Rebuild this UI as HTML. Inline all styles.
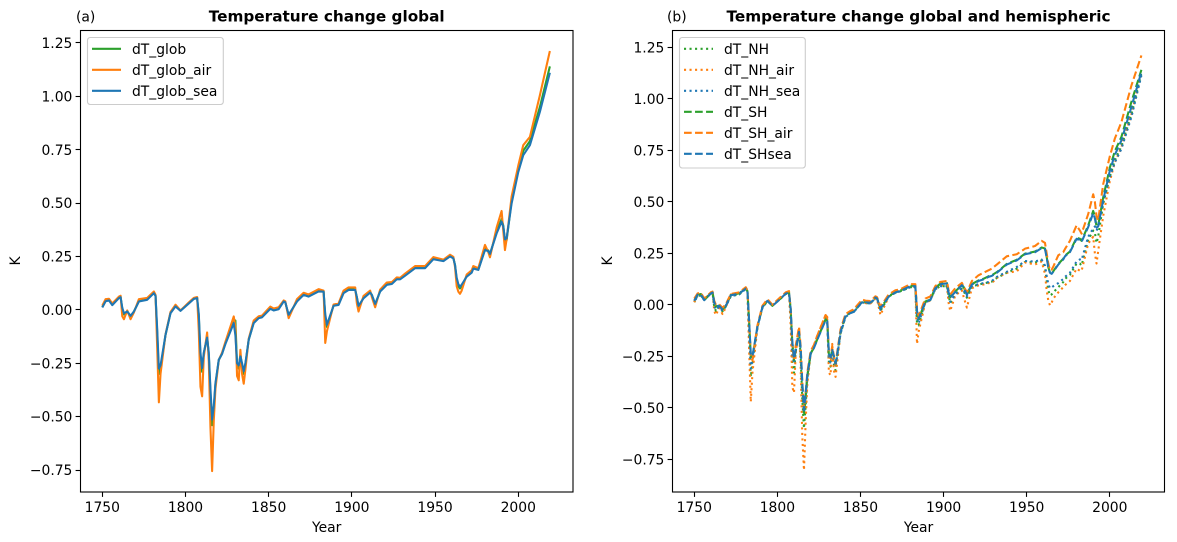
<!DOCTYPE html>
<html>
<head>
<meta charset="utf-8">
<title>Temperature change global and hemispheric</title>
<style>
html,body{margin:0;padding:0;background:#fff;width:1177px;height:542px;overflow:hidden}
svg{display:block}
text{font-family:"DejaVu Sans","Liberation Sans",sans-serif;font-size:13.89px;fill:#000}
text.bold{font-weight:bold;font-size:15.28px}
</style>
</head>
<body>
<svg id="figure" width="1177" height="542" viewBox="0 0 1177 542" xmlns="http://www.w3.org/2000/svg">
<rect x="0" y="0" width="1177" height="542" fill="#fff"/>
<text x="76" y="21.5">(a)</text>
<text class="bold" x="326.7" y="21.5" text-anchor="middle">Temperature change global</text>
<text x="667" y="21.5">(b)</text>
<text class="bold" x="918.5" y="21.5" text-anchor="middle">Temperature change global and hemispheric</text>
<text x="326.7" y="532" text-anchor="middle">Year</text>
<text x="918.5" y="532" text-anchor="middle">Year</text>
<text x="0" y="0" text-anchor="middle" transform="translate(20,261) rotate(-90)">K</text>
<text x="0" y="0" text-anchor="middle" transform="translate(612,261) rotate(-90)">K</text>
<g id="panel-a"></g>
<g id="panel-b"></g>
</svg>
<script>
// Shared time axis (years)
const years = [
1750,1752,1754,1756,1760,1761,1762,1763,1765,1767,
1769,1772,1777,1781,1782,1783,1784,1785,1788,1791,
1794,1797,1802,1805,1807,1808,1809,1810,1811,1813,
1814,1815,1816,1817,1818,1820,1822,1824,1829,1830,
1831,1832,1833,1834,1835,1836,1838,1841,1844,1846,
1851,1853,1856,1859,1860,1862,1867,1871,1874,1880,
1883,1884,1885,1889,1892,1895,1898,1902,1903,1904,
1907,1911,1912,1914,1917,1921,1924,1927,1929,1932,
1938,1944,1949,1955,1959,1961,1962,1963,1964,1965,
1966,1969,1972,1973,1976,1980,1982,1983,1987,1990,
1991,1992,1993,1996,2000,2003,2007,2013,2019];

const dT_glob = [
.013,.042,.046,.024,.057,.061,.006,-.022,-.006,-.032,
-.008,.041,.049,.08,.067,-.11,-.30,-.275,-.118,-.014,
.019,-.003,.032,.053,.057,-.03,-.22,-.29,-.205,-.125,
-.21,-.39,-.54,-.465,-.35,-.235,-.205,-.155,-.058,-.05,
-.26,-.275,-.21,-.26,-.30,-.255,-.14,-.06,-.037,-.033,
.007,-.001,.005,.041,.035,-.027,.041,.072,.064,.088,
.087,-.03,-.08,.02,.025,.08,.095,.095,.058,.015,
.056,.083,.07,.024,.088,.119,.123,.145,.145,.162,
.197,.197,.239,.23,.252,.243,.21,.14,.11,.1,
.112,.158,.177,.196,.188,.285,.278,.26,.365,.425,
.395,.325,.325,.51,.655,.745,.79,.95,1.14];

const dT_glob_air = [
.02,.05,.052,.03,.062,.066,-.03,-.044,-.003,-.044,
-.012,.05,.056,.086,.07,-.18,-.433,-.30,-.115,-.01,
.024,-.003,.035,.056,.06,-.10,-.36,-.405,-.22,-.106,
-.24,-.55,-.755,-.52,-.37,-.235,-.2,-.15,-.031,-.08,
-.31,-.33,-.187,-.30,-.346,-.28,-.135,-.05,-.03,-.027,
.015,.006,.012,.044,.04,-.039,.05,.08,.072,.097,
.09,-.155,-.10,.025,.03,.09,.105,.105,.03,-.008,
.065,.09,.06,.012,.095,.128,.13,.152,.15,.17,
.205,.205,.247,.235,.258,.248,.2,.11,.085,.075,
.09,.165,.185,.205,.195,.304,.27,.246,.385,.463,
.37,.28,.33,.53,.675,.771,.81,1.005,1.212];

const dT_glob_sea = [
.011,.040,.044,.022,.055,.059,.01,-.016,-.008,-.028,
-.008,.039,.047,.078,.065,-.09,-.275,-.26,-.117,-.016,
.016,-.005,.03,.051,.055,-.02,-.2,-.273,-.2,-.13,
-.2,-.37,-.514,-.45,-.343,-.234,-.206,-.16,-.062,-.12,
-.25,-.26,-.218,-.25,-.288,-.25,-.14,-.062,-.039,-.035,
.005,-.003,.003,.039,.035,-.023,.039,.07,.062,.086,
.085,-.02,-.07,.019,.023,.078,.093,.093,.06,.019,
.054,.081,.07,.028,.086,.117,.121,.143,.143,.16,
.195,.195,.237,.228,.25,.241,.21,.15,.12,.108,
.118,.155,.174,.193,.187,.28,.275,.262,.358,.413,
.39,.33,.335,.498,.645,.724,.771,.927,1.11];

const dT_NH = [
.012,.042,.045,.022,.055,.058,-.01,-.03,-.012,-.032,
-.008,.042,.05,.077,.065,-.15,-.35,-.29,-.11,-.014,
.018,-.004,.03,.052,.055,-.06,-.29,-.33,-.23,-.125,
-.25,-.46,-.6,-.49,-.36,-.24,-.205,-.16,-.065,-.08,
-.285,-.3,-.215,-.29,-.32,-.26,-.14,-.058,-.038,-.033,
.012,.008,.006,.033,.028,-.03,.04,.058,.065,.085,
.085,-.09,-.1,.012,.022,.075,.09,.09,.045,.008,
.05,.078,.068,.034,.088,.098,.103,.108,.112,.13,
.155,.175,.208,.205,.215,.18,.12,.07,.045,.05,
.06,.085,.11,.125,.145,.2,.2,.19,.315,.36,
.35,.3,.33,.49,.62,.7,.77,.925,1.125];

const dT_NH_air = [
.012,.05,.052,.025,.06,.062,-.03,-.05,-.015,-.045,
-.012,.05,.055,.08,.065,-.22,-.471,-.33,-.11,-.01,
.02,-.002,.032,.053,.057,-.1,-.40,-.427,-.24,-.108,
-.30,-.64,-.803,-.57,-.385,-.24,-.2,-.15,-.05,-.07,
-.33,-.342,-.19,-.32,-.35,-.28,-.135,-.05,-.032,-.027,
.015,.008,.006,.03,.025,-.05,.04,.06,.067,.09,
.087,-.19,-.13,.01,.02,.08,.095,.09,.01,-.03,
.045,.07,.04,-.014,.08,.094,.098,.105,.105,.13,
.155,.162,.205,.195,.21,.15,.07,.02,-.003,.01,
.03,.06,.085,.095,.115,.175,.165,.164,.297,.33,
.25,.2,.26,.43,.6,.69,.765,.925,1.121];

const dT_NH_sea = [
.012,.042,.045,.022,.055,.058,-.005,-.025,-.01,-.03,
-.008,.042,.05,.077,.065,-.12,-.31,-.27,-.11,-.015,
.018,-.005,.03,.052,.055,-.04,-.24,-.285,-.22,-.13,
-.22,-.40,-.53,-.45,-.35,-.24,-.205,-.165,-.07,-.085,
-.27,-.28,-.22,-.27,-.30,-.25,-.14,-.06,-.04,-.035,
.012,.008,.006,.033,.028,-.025,.04,.058,.065,.085,
.085,-.06,-.09,.012,.022,.075,.09,.09,.05,.014,
.05,.08,.072,.041,.09,.1,.105,.11,.115,.135,
.16,.183,.212,.21,.219,.19,.14,.1,.08,.084,
.09,.105,.125,.135,.155,.21,.22,.216,.33,.37,
.38,.36,.375,.5,.62,.69,.757,.911,1.113];

const dT_SH = [
.02,.05,.051,.023,.056,.06,.013,-.009,-.004,-.022,
-.004,.047,.055,.079,.066,-.08,-.25,-.255,-.106,-.011,
.02,-.005,.031,.055,.06,-.02,-.185,-.268,-.222,-.13,
-.215,-.39,-.525,-.44,-.345,-.236,-.208,-.168,-.072,-.078,
-.245,-.26,-.218,-.252,-.29,-.242,-.13,-.053,-.038,-.033,
.016,.014,.012,.037,.032,-.02,.042,.062,.069,.092,
.092,-.032,-.07,.016,.025,.082,.102,.105,.062,.036,
.064,.097,.087,.05,.1,.118,.126,.138,.143,.158,
.198,.218,.248,.258,.278,.273,.233,.182,.157,.152,
.162,.198,.223,.238,.258,.325,.32,.31,.385,.455,
.43,.38,.385,.52,.665,.745,.815,.985,1.14];

const dT_SH_air = [
.03,.055,.058,.03,.06,.064,.02,0,.002,-.015,
.003,.052,.06,.085,.07,-.08,-.25,-.27,-.1,-.005,
.027,0,.038,.06,.066,-.02,-.2,-.27,-.2,-.108,
-.2,-.38,-.51,-.43,-.33,-.225,-.195,-.15,-.05,-.06,
-.24,-.26,-.2,-.25,-.29,-.23,-.12,-.045,-.03,-.022,
.025,.02,.018,.041,.036,-.01,.05,.07,.075,.1,
.1,-.02,-.055,.03,.04,.09,.111,.115,.07,.05,
.08,.106,.09,.06,.115,.143,.155,.167,.175,.195,
.235,.245,.272,.285,.31,.3,.25,.2,.167,.17,
.185,.24,.255,.27,.31,.385,.36,.345,.44,.536,
.5,.43,.41,.585,.72,.806,.887,1.064,1.21];

const dT_SHsea = [
.019,.049,.05,.022,.055,.059,.012,-.01,-.005,-.023,
-.005,.046,.054,.078,.065,-.08,-.24,-.25,-.107,-.012,
.019,-.006,.03,.054,.059,-.02,-.18,-.261,-.22,-.132,
-.21,-.38,-.512,-.43,-.342,-.237,-.21,-.17,-.075,-.08,
-.24,-.255,-.22,-.25,-.285,-.24,-.132,-.055,-.04,-.035,
.014,.012,.01,.035,.03,-.019,.04,.06,.067,.09,
.09,-.03,-.067,.014,.023,.08,.1,.103,.06,.035,
.062,.095,.085,.048,.098,.115,.123,.135,.14,.155,
.195,.215,.245,.255,.275,.27,.23,.18,.155,.15,
.16,.195,.22,.235,.255,.32,.315,.305,.377,.445,
.42,.375,.38,.507,.65,.727,.798,.96,1.13];

const xTickLabels = [1750,1800,1850,1900,1950,2000];
const yTickValues = [-0.75,-0.50,-0.25,0,0.25,0.50,0.75,1.00,1.25];

const GREEN = '#2ca02c', ORANGE = '#ff7f0e', BLUE = '#1f77b4';
const SOLID = '', DOT = '2.08 3.44', DASH = '7.7 3.33';
const NS = 'http://www.w3.org/2000/svg';

const panels = [
  { id:'panel-a', left:80.5, right:573, top:30.5, bottom:492, xMin:1736.9, xMax:2032.9, yMin:-0.853, yMax:1.308,
    legend:{x:87.5,y:37.5,w:135.8,h:67, tx:132, hx0:92, hx1:121},
    series:[
      {name:'dT_glob', values:dT_glob, color:GREEN, dash:SOLID, phase:0},
      {name:'dT_glob_air', values:dT_glob_air, color:ORANGE, dash:SOLID, phase:0},
      {name:'dT_glob_sea', values:dT_glob_sea, color:BLUE, dash:SOLID, phase:0}
    ]},
  { id:'panel-b', left:672.5, right:1164.5, top:30.5, bottom:492, xMin:1736.9, xMax:2032.9, yMin:-0.909, yMax:1.331,
    legend:{x:679.5,y:37.5,w:125.8,h:130.5, tx:724, hx0:684, hx1:713},
    series:[
      {name:'dT_NH', values:dT_NH, color:GREEN, dash:DOT, phase:0},
      {name:'dT_NH_air', values:dT_NH_air, color:ORANGE, dash:DOT, phase:0},
      {name:'dT_NH_sea', values:dT_NH_sea, color:BLUE, dash:DOT, phase:2.7},
      {name:'dT_SH', values:dT_SH, color:GREEN, dash:DASH, phase:5},
      {name:'dT_SH_air', values:dT_SH_air, color:ORANGE, dash:DASH, phase:0},
      {name:'dT_SHsea', values:dT_SHsea, color:BLUE, dash:DASH, phase:0}
    ]}
];

function make(tag, parent, props) {
  const node = document.createElementNS(NS, tag);
  for (const key in props) node.setAttribute(key, props[key]);
  parent.appendChild(node);
  return node;
}

panels.forEach(function (p) {
  const root = document.getElementById(p.id);
  const xScale = function (v) { return p.left + (v - p.xMin) / (p.xMax - p.xMin) * (p.right - p.left); };
  const yScale = function (v) { return p.bottom - (v - p.yMin) / (p.yMax - p.yMin) * (p.bottom - p.top); };

  p.series.forEach(function (s) {
    const pts = years.map(function (yr, i) { return xScale(yr).toFixed(2) + ',' + yScale(s.values[i]).toFixed(2); }).join(' ');
    const line = make('polyline', root, {points:pts, fill:'none', stroke:s.color, 'stroke-width':2.08, 'stroke-linejoin':'round', 'stroke-linecap':'butt'});
    if (s.dash) line.setAttribute('stroke-dasharray', s.dash);
    if (s.phase) line.setAttribute('stroke-dashoffset', s.phase);
    
    
  });

  xTickLabels.forEach(function (yr) {
    const x = Math.round(xScale(yr) - 0.5) + 0.5;
    const tick = make('line', root, {x1:x, x2:x, y1:p.bottom, y2:p.bottom + 4.9, stroke:'#000', 'stroke-width':1.1});
    
    
    const label = make('text', root, {x:xScale(yr), y:p.bottom + 20, 'text-anchor':'middle'});
    label.textContent = String(yr);
    
    
  });

  yTickValues.forEach(function (v) {
    const y = Math.round(yScale(v) - 0.5) + 0.5;
    const tick = make('line', root, {x1:p.left - 4.9, x2:p.left, y1:y, y2:y, stroke:'#000', 'stroke-width':1.1});
    
    
    const label = make('text', root, {x:p.left - 8.1, y:yScale(v) + 5.1, 'text-anchor':'end'});
    label.textContent = (v < 0 ? '\u2212' : '') + Math.abs(v).toFixed(2);
    
    
  });

  const frame = make('rect', root, {x:p.left, y:p.top, width:p.right - p.left, height:p.bottom - p.top, fill:'none', stroke:'#000', 'stroke-width':1.1});
  
  

  const lg = p.legend;
  const box = make('rect', root, {x:lg.x, y:lg.y, width:lg.w, height:lg.h, rx:2.8, ry:2.8, fill:'#fff', 'fill-opacity':0.8, stroke:'#cccccc', 'stroke-width':1.1});
  
  
  p.series.forEach(function (s, i) {
    const cy = 48.8 + i * 21;
    const handle = make('line', root, {x1:lg.hx0, x2:lg.hx1, y1:cy, y2:cy, stroke:s.color, 'stroke-width':2.08});
    if (s.dash) handle.setAttribute('stroke-dasharray', s.dash);
    
    
    const text = make('text', root, {x:lg.tx, y:cy + 5});
    text.textContent = s.name;
    
    
  });
});
</script>
</body>
</html>
